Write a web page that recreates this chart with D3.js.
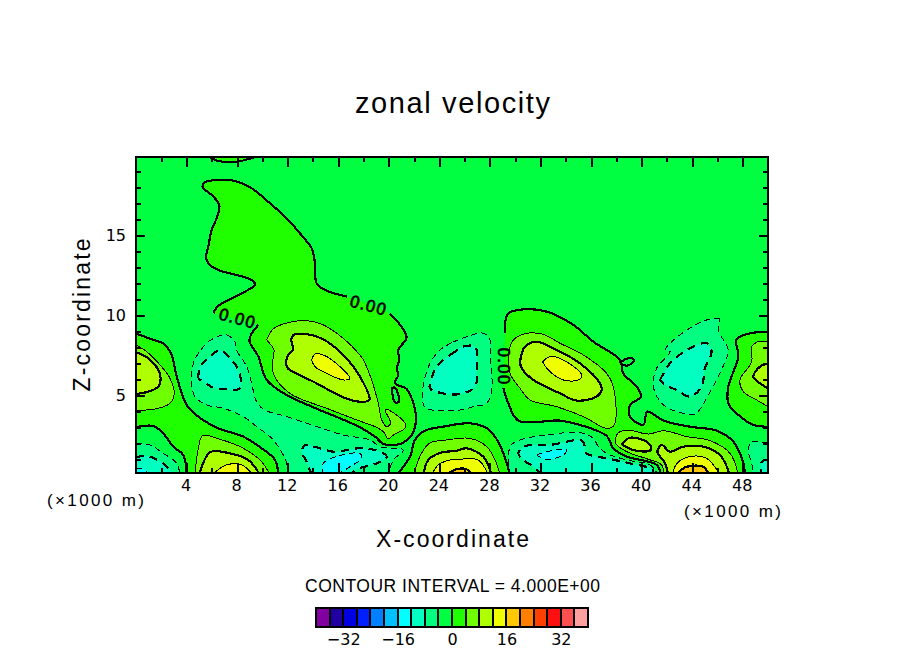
<!DOCTYPE html>
<html><head><meta charset="utf-8">
<script src="https://cdn.jsdelivr.net/npm/d3@7"></script>
<style>
html,body{margin:0;padding:0;background:#fff}
svg{display:block}
text{font-family:"Liberation Sans",sans-serif;fill:#000}
</style></head><body>
<svg id="c" width="904" height="654"></svg>
<script>
// ---------- data (x, z in units of 1000 m; contour level in m/s) ----------
const titleText = "zonal velocity";
const xLabel = "X-coordinate", zLabel = "Z-coordinate", unitLabel = "(×1000 m)";
const intervalText = "CONTOUR INTERVAL = 4.000E+00";
const xMajor = [4,8,12,16,20,24,28,32,36,40,44,48];
const xMinor = [2,6,10,14,18,22,26,30,34,38,42,46];
const zMajor = [5,10,15];
const zMinor = [1,2,3,4,6,7,8,9,11,12,13,14,16,17,18,19];
const barEdges = d3.range(-40,40,4);
const barTicks = [-32,-16,0,16,32];
const bandColors = ["#8000a0","#2000a0","#0000e0","#0020ff","#0080ff","#00c0ff","#00ffff","#00ffc0","#00ff80","#00ff40",
                    "#20ff00","#70ff00","#b0ff00","#f0ff00","#ffc800","#ff8000","#ff4000","#ff1010","#ff5050","#ffa0a0"];
const contourLabels = [["0.00",8.01,9.79,15],["0.00",18.38,10.6,15],["0.00",29.11,6.8,90]];

const plume0 = [[6.12,10.1],[6.43,10.52],[7.44,10.98],[8.62,11.46],[9.41,11.88],[9.15,12.19],[7.96,12.5],[6.65,12.77],[5.85,13.13],[5.54,13.54],[5.72,14.27],[5.99,15.31],[6.43,16.15],[6.59,16.88],[5.99,17.5],[5.27,17.98],[5.46,18.29],[6.38,18.44],[7.7,18.4],[9.15,17.92],[10.6,16.98],[11.92,16.04],[13.24,14.85],[13.9,14.17],[14.16,13.23],[14.29,11.98],[15.08,11.52],[16.67,11.15],null,[20.09,10.06],[20.89,9.38],[21.41,8.6],[20.75,7.81],[20.83,7.19],[20.62,6.67],[20.75,6.25],[20.49,5.73],[21.41,5.38],[21.94,4.48],[22.15,3.44],[21.81,2.5],[20.89,1.94],[19.57,1.94],[18.91,2.4],[17.72,2.98],[16.14,3.54],[14.03,4.23],[11.92,5],[10.34,5.94],[9.68,7.4],[8.97,8.44],[9.68,9.38]];
const blobA4 = [[10.34,8.44],[10.86,9.13],[11.92,9.5],[13.5,9.65],[14.82,9.38],[16.4,8.54],[17.72,7.5],[17.99,7.19],[18.64,5.94],[19.17,4.48],[19.44,3.44],[19.83,3.02],[20.15,3.23],[19.7,4.1],[20.62,3.75],[21.28,3.23],[21.28,2.92],[20.36,2.5],[19.96,2.25],[19.57,2.71],[18.91,3.02],[17.46,3.44],[15.08,4.17],[12.18,5.1],[10.86,6.35],[10.86,7.4],[10.92,7.81]];
const blobA8 = [[12.26,8.44],[12.45,8.75],[13.5,8.81],[14.82,8.48],[16.4,7.5],[17.72,6.15],[18.46,4.69],[17.72,4.58],[16.4,4.85],[14.29,5.73],[12.97,6.25],[11.97,6.71],[11.97,7.4],[12.39,7.81]];
const blobA12 = [[13.9,7.19],[14.16,7.56],[14.82,7.5],[16.14,6.77],[16.93,6.04],[16.4,5.94],[15.08,6.35],[14.16,6.77]];
const holeA = [[20.23,5.42],[20.49,5.46],[20.8,4.58],[20.49,4.54]];
const leftZone0 = [[0,8.85],[1.37,8.44],[2.16,8.23],[2.82,7.5],[3.22,6.15],[4.01,4.38],[4.93,3.65],[6.51,2.92],[8.49,2.4],[9.94,1.67],[11,0.94],[11.26,0],null,[4.01,0],[3.74,1.25],[2.95,1.77],[2.16,2.6],[1.37,3.06],[0,2.98]];
const leftBlob4 = [[0,8.13],[0.84,7.71],[1.9,6.88],[2.69,6.04],[3.03,5.1],[2.69,4.48],[1.77,4.17],[0,4.02]];
const leftBlob8 = [[0,7.67],[0.98,7.29],[1.77,6.56],[1.95,6.04],[1.77,5.52],[0.98,5.21],[0,5.06]];
const bottomA4 = [[4.67,0],[4.93,1.67],[5.27,2.46],[6.65,2.23],[8.49,1.67],[9.94,0.83],[10.6,0]];
const bottomA8 = [[5.01,0],[5.85,1.42],[7.44,1.35],[8.89,0.94],[9.81,0]];
const bottomA12 = [[5.99,0],[7.17,0.63],[8.36,0.63],[9.28,0]];
const cornerNeg4 = [[0,1.98],[1.11,1.88],[2.16,1.35],[3.22,0.73],[3.48,0],null,[0,0]];
const cornerNeg8 = [[0,1.1],[0.84,1.19],[2.16,0.73],[2.95,0],null,[0,0]];
const cornerNeg12 = [[0,0.42],[0.71,0.31],[0.98,0],null,[0,0]];
const centerNeg4 = [[11.92,0],[11.92,0.73],[10.86,2.19],[9.55,3.02],[8.49,3.65],[6.91,4.17],[5.59,4.38],[4.67,4.9],[4.4,5.73],[4.54,6.98],[4.93,7.6],[5.85,8.4],[7.17,8.75],[7.83,8.33],[7.96,7.81],[8.76,6.77],[9.15,5.73],[9.5,4.65],[10.1,4.1],[11.92,3.65],[14.29,3.02],[16.4,2.5],[18.51,2.19],[19.3,1.77],[21.15,1.56],[20.36,0.94],[19.96,0]];
const upperNeg8 = [[4.93,6.04],[5.06,6.77],[5.85,7.4],[6.65,7.81],[7.44,7.29],[8.1,6.56],[8.23,5.42],[7.17,5.35],[6.12,5.46]];
const centerNeg8 = [[13.9,0],[13.5,0.83],[13.11,1.46],[13.37,1.88],[14.29,1.73],[15.61,1.46],[17.72,1.67],[19.3,1.46],[19.83,1.15],[19.04,0.73],[17.46,0.35],[16.93,0]];
const centerNeg12 = [[14.77,0],[14.82,0.73],[15.88,1.15],[17.72,1.35],[17.85,1.04],[16.93,0.52],[15.88,0]];
const midNeg4 = [[24.98,8.27],[24.05,7.81],[23.26,6.98],[22.68,5.31],[22.86,4.23],[23.92,4.02],[25.63,4.06],[26.69,4.27],[27.74,4.48],[28.14,5.31],[28.06,7.19],[28,8.44],[27.48,8.86],[26.16,8.64]];
const midNeg8 = [[25.24,7.71],[24.31,7.19],[23.65,6.56],[23.26,5.42],[24.05,5.14],[25.63,5.06],[26.82,5.52],[26.95,6.77],[26.82,8.02],[25.63,7.96]];
const rightZone0 = [[29.19,8.85],[29.19,9.48],[29.46,10.1],[30.64,10.35],[32.49,10.21],[34.6,9.38],[36.18,8.33],[38.29,7.19],[38.55,6.35],[39.61,5.52],[39.95,4.9],[39.08,4.38],[39.08,3.65],[40.14,3.13],[40.45,3.96],[41.72,3.4],[43.83,3.02],[45.94,2.77],[47.26,2.08],[48.05,0.73],[48.18,0],null,[41.51,0],[41.19,0.63],[38.82,1.15],[37.76,1.67],[37.24,2.44],[35.13,3.13],[33.55,3.4],[30.25,3.4],[29.46,4.48],[29.06,5.42]];
const holeB = [[38.29,6.98],[38.69,7.23],[39.3,7.29],[39.35,7.08],[38.82,6.83]];
const blobB4 = [[29.46,7.5],[29.85,8.44],[30.91,8.85],[32.22,8.79],[33.55,8.23],[35.39,7.5],[37.24,6.35],[37.76,5.52],[37.84,3.13],[37.24,2.92],[35.39,3.65],[33.28,4.27],[31.17,4.69],[30.38,5.42],[29.59,6.35]];
const blobB8 = [[30.38,7.08],[30.77,8.02],[31.7,8.33],[33.28,7.81],[35.13,6.98],[36.71,5.73],[36.84,5.31],[36.44,4.9],[34.86,4.65],[33.55,5.1],[31.44,5.94],[30.51,6.67]];
const blobB12 = [[32.17,7.08],[32.75,7.4],[33.8,7.19],[35.26,6.25],[35,5.94],[33.8,5.94],[32.62,6.56]];
const channel4 = [[41.72,0],[41.59,0.63],[40.54,0.98],[38.82,1.46],[37.95,1.98],[38.11,2.6],[38.82,2.81],[40.54,2.56],[41.72,2.77],[43.57,2.4],[45.41,2.15],[47,1.35],[47.65,0]];
const channel8 = [[38.42,1.92],[39.08,2.33],[40.4,2.08],[40.74,1.77],[40.66,1.52],[39.35,1.56]];
const bottomC8 = [[42.11,0],[41.85,0.73],[41.25,1.46],[41.59,1.88],[42.25,1.46],[43.3,1.77],[44.88,1.77],[46.2,1.25],[46.99,0]];
const bottomC12 = [[42.41,0],[42.81,0.73],[43.83,1.15],[45.15,1.04],[46.2,0]];
const bottomC16 = [[42.81,0],[43.3,0.42],[44.09,0.58],[44.88,0.52],[45.36,0]];
const bottomB0 = [[20.62,0],[21.68,1.14],[22.07,2.19],[22.86,2.77],[24.29,3.02],[26.42,3.23],[27.75,2.92],[28.66,2.08],[29.33,0.73],[29.59,0]];
const bottomB4 = [[21.94,0],[22.6,1.38],[23.26,2],[24.58,2.19],[26.42,2.29],[27.75,1.77],[28.4,0.94],[28.8,0]];
const bottomB8 = [[22.73,0],[23.12,0.94],[24.05,1.38],[25.37,1.52],[26.16,1.67],[27.48,1.14],[28.14,0]];
const bottomB12 = [[23.39,0],[23.92,0.63],[24.84,0.94],[25.87,1],[27.08,0.94],[27.87,0]];
const bottomB16 = [[24.45,0],[25.37,0.36],[26.16,0.36],[26.56,0]];
const eastNeg4 = [[29.59,0],[29.59,1.77],[30.38,2.19],[32.49,2.5],[35.13,2.65],[36.18,2.29],[36.58,1.77],[37.24,1.35],[38.82,0.94],[40.66,0.63],[41.32,0]];
const eastNeg8 = [[32.09,0],[31.43,0.52],[30.64,0.94],[30.25,1.35],[30.64,1.77],[32.75,1.88],[35.26,2.15],[35.52,1.77],[35.65,1.35],[37.24,1.04],[39.08,0.73],[40.93,0.31],[40.66,0]];
const eastNeg12 = [[31.7,1.25],[32.49,1.46],[34.07,1.56],[33.8,1.25],[32.49,0.98]];
const farNeg4 = [[46.2,9.75],[45.15,9.69],[43.57,9.06],[42.25,8.23],[41.85,7.81],[42.25,7.71],[41.19,6.67],[40.93,5.52],[41.72,4.38],[43.3,3.85],[44.23,3.81],[45.28,5],[46.6,7.08],[46.86,7.81],[46.07,9.06]];
const farNeg8 = [[41.46,5.94],[42.25,6.98],[43.83,7.92],[45.15,8.23],[45.54,7.71],[45.01,6.67],[44.75,5.52],[43.83,4.9],[42.78,5.31],[41.85,5.63]];
const edge0 = [[50,8.96],[48.57,8.85],[47.52,8.48],[47.65,7.4],[46.86,5.52],[46.86,4.48],[47.52,3.85],[48.84,3.13],[50,3.02]];
const edge4 = [[50,8.33],[49.2,8.33],[48.71,8.02],[48.71,7.08],[47.78,5.94],[48.05,5.21],[49.1,4.69],[50,4.27]];
const edge8 = [[50,6.98],[49.36,6.77],[48.84,6.15],[49.36,5.73],[50,5.42]];
const edgeNeg4 = [[50,1.98],[48.71,2.08],[48.44,1.56],[48.71,0.73],[48.84,0],null,[50,0]];
const edgeNeg8 = [[50,0.94],[49.51,0.83],[49.51,0],null,[50,0]];
const top0 = [[5.5,20],[6.51,19.63],[7.96,19.58],[9.9,20]];

// [points, contour level, value inside, closed?]
const contours = [
 [plume0,0,2,0],[top0,0,2,0],[leftZone0,0,2,0],[rightZone0,0,2,0],[bottomB0,0,2,0],[edge0,0,2,0],
 [holeA,0,-2,1],[holeB,0,-2,1],
 [blobA4,4,6,1],[leftBlob4,4,6,0],[bottomA4,4,6,0],[blobB4,4,6,1],[channel4,4,6,0],[bottomB4,4,6,0],[edge4,4,6,0],
 [blobA8,8,10,1],[leftBlob8,8,10,0],[bottomA8,8,10,0],[blobB8,8,10,1],[channel8,8,10,1],[bottomC8,8,10,0],[bottomB8,8,10,0],[edge8,8,10,0],
 [blobA12,12,14,1],[bottomA12,12,14,0],[blobB12,12,14,1],[bottomC12,12,14,0],[bottomB12,12,14,0],
 [bottomC16,16,18,0],[bottomB16,16,18,0],
 [cornerNeg4,-4,-6,0],[centerNeg4,-4,-6,0],[midNeg4,-4,-6,1],[eastNeg4,-4,-6,0],[farNeg4,-4,-6,1],[edgeNeg4,-4,-6,0],
 [cornerNeg8,-8,-10,0],[upperNeg8,-8,-10,1],[centerNeg8,-8,-10,0],[midNeg8,-8,-10,1],[eastNeg8,-8,-10,0],[farNeg8,-8,-10,1],[edgeNeg8,-8,-10,0],
 [cornerNeg12,-12,-14,0],[centerNeg12,-12,-14,0],[eastNeg12,-12,-14,1]
];

// ---------- drawing ----------
const L=136,R=768,T=157,B=473;
const x=d3.scaleLinear([0,50],[L,R]);
const z=d3.scaleLinear([0.125,19.875],[B,T]);
const band=d3.scaleQuantize([-40,40],bandColors);
const svg=d3.select("#c").attr("shape-rendering","crispEdges");
const dejavu='"DejaVu Sans"';

svg.append("clipPath").attr("id","plot").append("rect").attr("x",L).attr("y",T).attr("width",R-L).attr("height",B-T);
const plot=svg.append("g").attr("clip-path","url(#plot)");
plot.append("rect").attr("x",L).attr("y",T).attr("width",R-L).attr("height",B-T).attr("fill",band(-2));

const line=d3.line().defined(d=>d).x(d=>x(d[0])).y(d=>z(d[1])).curve(d3.curveCatmullRom.alpha(0.5));
const fills=plot.append("g"), strokes=plot.append("g");
contours.forEach(([pts,level,inside,closed])=>{
  const drawn=closed?pts.concat([pts[0]]):pts;
  fills.append("path").attr("d",line(drawn.filter(d=>d))).attr("fill",band(inside));
});
contours.forEach(([pts,level,inside,closed])=>{
  const drawn=closed?pts.concat([pts[0]]):pts;
  const thick=level%8===0;
  strokes.append("path").attr("d",line(drawn)).attr("fill","none").attr("stroke","#000")
    .attr("stroke-width",thick?2.2:1)
    .attr("stroke-dasharray",level<0?(thick?"8,6":"6,4"):null);
});
// contour labels
contourLabels.forEach(([s,a,b,ang])=>{
  svg.append("text").text(s).attr("text-anchor","middle").attr("dy","0.36em")
    .attr("transform",`translate(${x(a)},${z(b)}) rotate(${ang})`)
    .style("font-family",dejavu).attr("font-size",16).attr("letter-spacing",0.6).attr("stroke","#000").attr("stroke-width",0.6);
});

// axes: inward ticks on all four sides
function axis(gen,tx,ty){
  const g=svg.append("g").attr("transform",`translate(${tx},${ty})`).call(gen);
  g.select(".domain").remove();
  g.selectAll("line").attr("stroke","#000").attr("stroke-width",2);
  return g;
}
const tk=(a,vals,size)=>a.tickValues(vals).tickSize(size).tickFormat("");
axis(tk(d3.axisBottom(x),xMinor,-5),0,B);
axis(tk(d3.axisBottom(x),xMajor,-10),0,B);
axis(tk(d3.axisTop(x),xMinor,-5),0,T);
axis(tk(d3.axisTop(x),xMajor,-10),0,T);
axis(tk(d3.axisLeft(z),zMinor,-5),L,0);
axis(tk(d3.axisLeft(z),zMajor,-9),L,0);
axis(tk(d3.axisRight(z),zMinor,-5),R,0);
axis(tk(d3.axisRight(z),zMajor,-9),R,0);
svg.append("rect").attr("x",L).attr("y",T).attr("width",R-L).attr("height",B-T)
  .attr("fill","none").attr("stroke","#000").attr("stroke-width",2);

// tick labels
const gx=svg.append("g").attr("transform",`translate(0,${B})`).call(d3.axisBottom(x).tickValues(xMajor).tickSize(0).tickPadding(7).tickFormat(d3.format("d")));
gx.select(".domain").remove();
gx.selectAll("text").attr("font-size",16).style("font-family",dejavu).attr("dx",-1);
const gz=svg.append("g").attr("transform",`translate(${L},0)`).call(d3.axisLeft(z).tickValues(zMajor).tickSize(0).tickPadding(10).tickFormat(d3.format("d")));
gz.select(".domain").remove();
gz.selectAll("text").attr("font-size",16).style("font-family",dejavu);

// titles
const label=(s,a,b,size,w,anchor="middle",rot=0)=>svg.append("text").text(s)
  .attr("transform",`translate(${a},${b}) rotate(${rot})`).attr("text-anchor",anchor)
  .attr("font-size",size).attr("textLength",w).attr("lengthAdjust","spacing");
label(titleText,452.5,113,29,195);
label(xLabel,452.5,547,23,153);
label(zLabel,90,315,23,153,"middle",-90);
label(unitLabel,95.5,506,17,97);
label(unitLabel,732.5,517,17,97);
label(intervalText,452.5,592,17.5,295);

// colour bar
const bar=d3.scaleLinear([-40,40],[316,588]);
const by=608,bh=19;
svg.selectAll(".box").data(barEdges).join("rect").attr("class","box")
  .attr("x",d=>bar(d)).attr("y",by).attr("width",d=>bar(d+4)-bar(d)).attr("height",bh)
  .attr("fill",d=>band(d+2)).attr("stroke","#000").attr("stroke-width",2);
const gb=svg.append("g").attr("transform",`translate(0,${by+bh})`)
  .call(d3.axisBottom(bar).tickValues(barTicks).tickSize(0).tickPadding(7).tickFormat(d=>d<0?"−"+(-d):d));
gb.select(".domain").remove();
gb.selectAll("text").attr("font-size",16).style("font-family",dejavu);
</script>
</body></html>
